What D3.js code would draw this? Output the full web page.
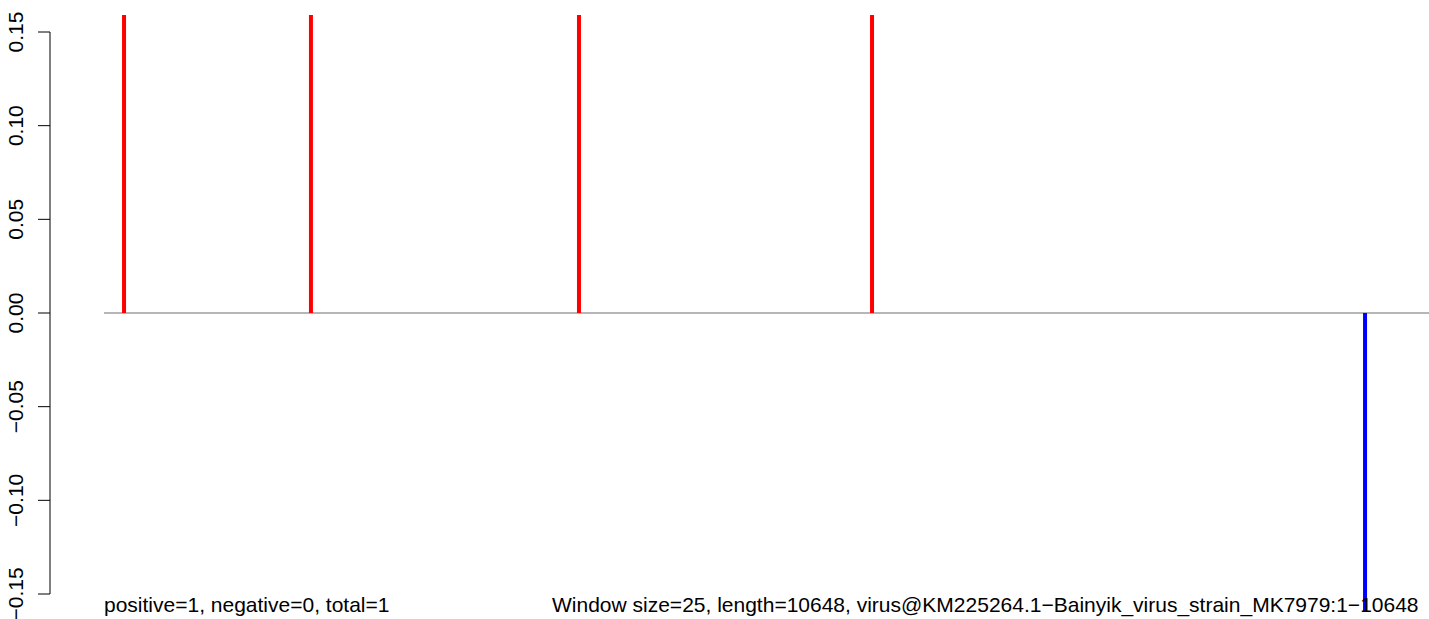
<!DOCTYPE html>
<html><head><meta charset="utf-8">
<script src="https://cdn.jsdelivr.net/npm/d3@7"></script>
<style>body{margin:0;background:#fff}svg{display:block}</style>
</head><body>
<script>
const seqLength = 10648;
const positions = [161, 1663, 3817, 6172, 10134];
const scores = [1, 1, 1, 1, -1];
const barColors = ["#ff0000", "#ff0000", "#ff0000", "#ff0000", "#0000ff"];
const yTicks = [-0.15, -0.10, -0.05, 0.00, 0.05, 0.10, 0.15];
const leftLabel = "positive=1, negative=0, total=1";
const rightLabel = "Window size=25, length=10648, virus@KM225264.1\u2212Bainyik_virus_strain_MK7979:1\u221210648";

const W = 1429, H = 619;
const svg = d3.select("body").append("svg").attr("width", W).attr("height", H);
const y = d3.scaleLinear().domain([-0.15, 0.15]).range([594, 32]);
const x = d3.scaleLinear().domain([0, seqLength]).range([104, 1429]);
const font = "Liberation Sans, Arial, Helvetica, sans-serif";
const fs = 21;

svg.append("defs").append("clipPath").attr("id", "plotclip")
  .append("rect").attr("x", 50).attr("y", 15).attr("width", W - 50).attr("height", 596);

// y axis
const ax = svg.append("g").attr("transform", "translate(50,0)");
ax.append("line").attr("x1", 0).attr("x2", 0).attr("y1", y(0.15)).attr("y2", y(-0.15))
  .attr("stroke", "#000").attr("stroke-width", 1);
ax.selectAll("line.t").data(yTicks).enter().append("line").attr("class", "t")
  .attr("x1", -12).attr("x2", 0).attr("y1", d => y(d)).attr("y2", d => y(d))
  .attr("stroke", "#000").attr("stroke-width", 1);
const fmt = d => (d < 0 ? "\u2212" : "") + Math.abs(d).toFixed(2);
ax.selectAll("text").data(yTicks).enter().append("text")
  .attr("transform", d => `translate(-27,${y(d)}) rotate(-90)`)
  .attr("text-anchor", "middle").attr("font-family", font).attr("font-size", fs)
  .attr("fill", "#000").text(fmt);

const g = svg.append("g").attr("clip-path", "url(#plotclip)");
// baseline
g.append("line").attr("x1", x(0)).attr("x2", x(seqLength)).attr("y1", y(0)).attr("y2", y(0))
  .attr("stroke", "#9e9e9e").attr("stroke-width", 1.5);
// bars
g.selectAll("line.bar").data(positions).enter().append("line").attr("class", "bar")
  .attr("x1", d => x(d)).attr("x2", d => x(d))
  .attr("y1", y(0)).attr("y2", (d, i) => y(scores[i]))
  .attr("stroke", (d, i) => barColors[i]).attr("stroke-width", 4);

svg.append("text").attr("x", 104).attr("y", 612).attr("font-family", font).attr("font-size", fs)
  .attr("fill", "#000").text(leftLabel);
svg.append("text").attr("x", 552).attr("y", 612).attr("font-family", font).attr("font-size", fs)
  .attr("fill", "#000").text(rightLabel);
</script>
</body></html>
